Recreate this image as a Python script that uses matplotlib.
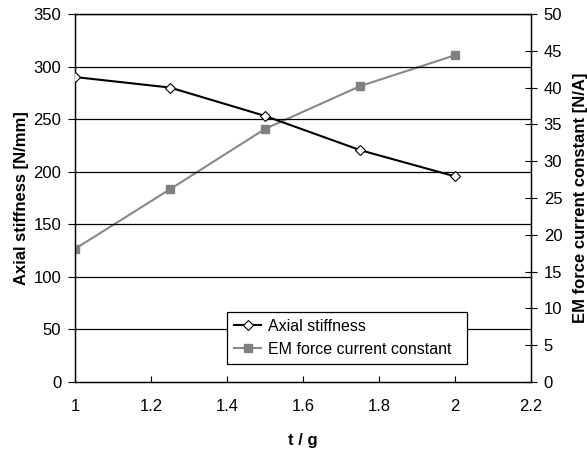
import matplotlib
matplotlib.use("Agg")
import matplotlib.pyplot as plt

plt.rcParams['font.family'] = ['Liberation Sans', 'DejaVu Sans']

t_g = [1.0, 1.25, 1.5, 1.75, 2.0]
axial_stiffness = [290, 280, 253, 220.5, 195.5]
em_constant = [18.1, 26.2, 34.4, 40.2, 44.4]

fig = plt.figure(figsize=(5.87, 4.5), dpi=100)
ax = fig.add_axes([0.128, 0.151, 0.777, 0.818])
ax2 = ax.twinx()

ax.set_xlim(1, 2.2)
ax.set_ylim(0, 350)
ax2.set_ylim(0, 50)
ax.set_xticks([1, 1.2, 1.4, 1.6, 1.8, 2, 2.2])
ax.set_xticklabels(['1', '1.2', '1.4', '1.6', '1.8', '2', '2.2'])
ax.set_yticks(range(0, 351, 50))
ax2.set_yticks(range(0, 51, 5))

for y in range(50, 351, 50):
    ax.axhline(y, color='black', lw=0.9, zorder=1)

l1, = ax.plot(t_g, axial_stiffness, color='black', lw=1.5, marker='D', ms=5,
              mfc='white', mec='black', mew=0.8, label='Axial stiffness', zorder=3)
l2, = ax2.plot(t_g, em_constant, color='#888888', lw=1.5, marker='s', ms=6,
               mfc='#808080', mec='#808080', label='EM force current constant', zorder=3)

ax.set_zorder(ax2.get_zorder() + 1)
ax.patch.set_visible(False)

ax.tick_params(axis='x', direction='in', length=4, labelsize=12, pad=12)
ax.tick_params(axis='y', direction='out', length=5, labelsize=12, pad=5)
ax2.tick_params(axis='y', direction='inout', length=8, labelsize=12, pad=5)

for a in (ax, ax2):
    for s in a.spines.values():
        s.set_color('black')
        s.set_linewidth(0.9)

ax.set_xlabel('t / g', fontsize=12, fontweight='bold', labelpad=14)
ax.set_ylabel('Axial stiffness [N/mm]', fontsize=12, fontweight='bold', labelpad=3)
ax2.set_ylabel('EM force current constant [N/A]', fontsize=12, fontweight='bold', labelpad=8)

leg = ax.legend(handles=[l1, l2], loc='lower left', bbox_to_anchor=(0.333, 0.049, 0.527, 0.155),
                mode='expand', fontsize=11.5, frameon=True, fancybox=False, edgecolor='black',
                framealpha=1, handlelength=1.7, borderaxespad=0, handletextpad=0.4,
                borderpad=0.45, labelspacing=0.5)
leg.get_frame().set_linewidth(0.9)
leg._legend_box.align = 'left'
for child in leg.get_children():
    pass
leg.set_bbox_to_anchor((0.333, 0.049, 0.527, 0.155), transform=ax.transAxes)

fig.savefig('out.png', dpi=100)
